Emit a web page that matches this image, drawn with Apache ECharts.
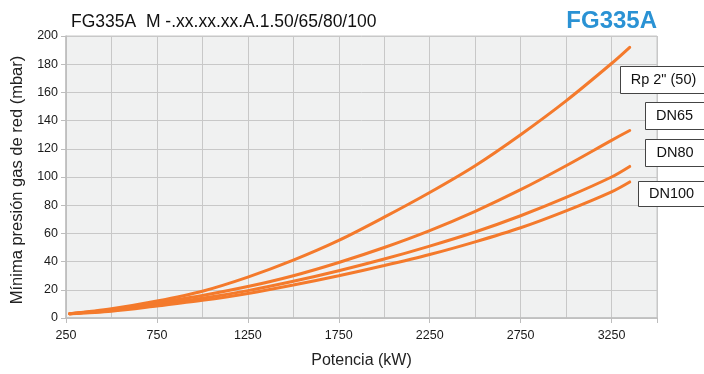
<!DOCTYPE html>
<html>
<head>
<meta charset="utf-8">
<script src="https://cdn.jsdelivr.net/npm/echarts@6/dist/echarts.min.js"></script>
<style>
html,body{margin:0;padding:0;background:#fff;}
#c{width:704px;height:374px;}
</style>
</head>
<body>
<div id="c"></div>
<script>
// Data
const powerKW = [270, 500, 750, 1000, 1250, 1500, 1750, 2000, 2250, 2500, 2750, 3000, 3250, 3350];
const rp2_50 = [3, 6.5, 12, 19, 29, 41, 55, 71.5, 89, 108, 130, 154, 180.5, 192];
const dn65   = [3, 5.8, 10.9, 16, 22.3, 30, 39.4, 50, 62, 75.7, 91, 108, 126, 133];
const dn80   = [3, 5.3, 9.7, 14, 19.4, 26, 33.5, 41.8, 51, 61, 72.5, 85.5, 100, 107.5];
const dn100  = [3, 4.8, 8.5, 12.5, 17.4, 23.4, 30, 37.2, 45, 54, 64, 76, 89.5, 96.5];
const seriesNames = ['Rp 2" (50)', 'DN65', 'DN80', 'DN100'];
const xLabelValues = [250, 750, 1250, 1750, 2250, 2750, 3250];
const titleText = 'FG335A  M -.xx.xx.xx.A.1.50/65/80/100';
const brandText = 'FG335A';

const pair = arr => powerKW.map((x, i) => [x, arr[i]]);
const allSeries = [rp2_50, dn65, dn80, dn100];
const ORANGE = '#f47a2c';
const FONT = '"Liberation Sans", Arial, sans-serif';

const chart = echarts.init(document.getElementById('c'), null, {renderer: 'canvas'});

const boxes = [
  {x: 620.5, y: 66.5, w: 86, h: 27, cx: 663.5, label: seriesNames[0]},
  {x: 645.5, y: 102.5, w: 60, h: 27, cx: 674.5, label: seriesNames[1]},
  {x: 645.5, y: 139.5, w: 60, h: 27, cx: 675, label: seriesNames[2]},
  {x: 638.5, y: 181.5, w: 68, h: 25, cx: 671.5, label: seriesNames[3]}
];
const graphic = [];
boxes.forEach(b => {
  graphic.push({type: 'rect', shape: {x: b.x, y: b.y, width: b.w, height: b.h},
    style: {fill: '#fff', stroke: '#444', lineWidth: 1}, z: 100});
  graphic.push({type: 'text', x: b.cx, y: b.y + b.h / 2,
    style: {text: b.label, font: '14.5px ' + FONT, fill: '#111', textAlign: 'center', textVerticalAlign: 'middle'}, z: 101});
});

chart.setOption({
  animation: false,
  textStyle: {fontFamily: FONT},
  title: [
    {text: titleText, left: 66, top: 8, textStyle: {fontSize: 17.5, fontWeight: 'normal', color: '#111', fontFamily: FONT}},
    {text: brandText, right: 42, top: 4, textStyle: {fontSize: 24, fontWeight: 'bold', color: '#2a92d4', fontFamily: FONT}}
  ],
  grid: {left: 66, right: 47, top: 36, bottom: 50, show: true, backgroundColor: '#f0f1f1', borderColor: '#c6c6c6', borderWidth: 1},
  xAxis: [{
    type: 'value', min: 250, max: 3500, interval: 250,
    name: 'Potencia (kW)', nameLocation: 'middle', nameGap: 35,
    nameTextStyle: {fontSize: 16, color: '#222', fontFamily: FONT},
    axisLine: {show: true, lineStyle: {color: '#bdbdbd', width: 1.5}},
    axisTick: {show: false},
    axisLabel: {fontSize: 12.5, color: '#1a1a1a', margin: 11, fontFamily: FONT,
      formatter: v => xLabelValues.indexOf(v) >= 0 ? String(v) : ''},
    splitLine: {show: true, lineStyle: {color: '#c8c8c8', width: 1}}
  }, {
    type: 'value', min: 250, max: 3500, interval: 500, position: 'bottom',
    axisLine: {show: false}, axisLabel: {show: false}, splitLine: {show: false},
    axisTick: {show: true, length: 5, lineStyle: {color: '#bdbdbd'}}
  }],
  yAxis: {
    type: 'value', min: 0, max: 200, interval: 20,
    name: 'Mínima presión gas de red (mbar)', nameLocation: 'middle', nameGap: 35,
    nameTextStyle: {fontSize: 16.5, color: '#222', fontFamily: FONT, padding: [0, 6, 0, 0]},
    axisLine: {show: true, lineStyle: {color: '#bdbdbd', width: 1.5}},
    axisTick: {show: true, length: 5, lineStyle: {color: '#bdbdbd'}},
    axisLabel: {fontSize: 12.5, color: '#1a1a1a', margin: 8, fontFamily: FONT},
    splitLine: {show: true, lineStyle: {color: '#c8c8c8', width: 1}}
  },
  series: allSeries.map((arr, i) => ({
    name: seriesNames[i], type: 'line', smooth: 0.3, showSymbol: false, symbol: 'none',
    data: pair(arr), xAxisIndex: 0,
    lineStyle: {color: ORANGE, width: 3, cap: 'round'}, z: 5
  })),
  graphic: graphic
});
</script>
</body>
</html>
